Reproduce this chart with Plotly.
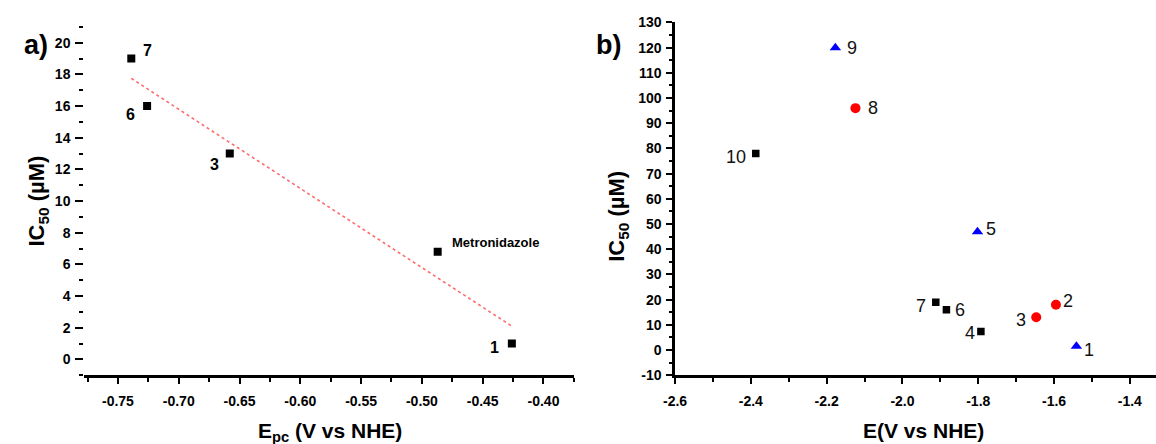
import numpy as np
import plotly.graph_objects as go

# ---------------- data: panel a ----------------
a_labels = ["7", "6", "3", "Metronidazole", "1"]
a_E = [-0.739, -0.726, -0.658, -0.487, -0.426]
a_IC50 = [19.0, 16.0, 13.0, 6.8, 1.0]
a_xticks = [-0.75, -0.70, -0.65, -0.60, -0.55, -0.50, -0.45, -0.40]
a_xticktext = ["-0.75", "-0.70", "-0.65", "-0.60", "-0.55", "-0.50", "-0.45", "-0.40"]
a_yticks = [0, 2, 4, 6, 8, 10, 12, 14, 16, 18, 20]
a_yticktext = ["0", "2", "4", "6", "8", "10", "12", "14", "16", "18", "20"]

# ---------------- data: panel b ----------------
sq_labels = ["10", "7", "6", "4"]
sq_E = [-2.387, -1.912, -1.884, -1.793]
sq_IC50 = [78.0, 19.0, 16.0, 7.4]
ci_labels = ["8", "3", "2"]
ci_E = [-2.124, -1.647, -1.595]
ci_IC50 = [96.0, 13.0, 18.0]
tr_labels = ["9", "5", "1"]
tr_E = [-2.177, -1.802, -1.541]
tr_IC50 = [120.0, 47.0, 1.5]
b_xticks = [-2.6, -2.4, -2.2, -2.0, -1.8, -1.6, -1.4]
b_xticktext = ["-2.6", "-2.4", "-2.2", "-2.0", "-1.8", "-1.6", "-1.4"]
b_yticks = [-10, 0, 10, 20, 30, 40, 50, 60, 70, 80, 90, 100, 110, 120, 130]
b_yticktext = ["-10", "0", "10", "20", "30", "40", "50", "60", "70", "80", "90",
               "100", "110", "120", "130"]

# label offsets (pixels: dx right, dy up)
a_off = {"7": (16, 8), "6": (-17, -8), "3": (-15, -11), "Metronidazole": (12, 9), "1": (-17, -4)}
b_off = {"9": (17, 0), "8": (18, 0), "10": (-20, -4), "5": (14, 3), "7": (-15, -4),
         "6": (14, 0), "4": (-11, -2), "3": (-15, -3), "2": (12, 4), "1": (13, -4)}

# linear fit for panel a
coef = np.polyfit(a_E, a_IC50, 1)
fit_x = np.array([min(a_E), max(a_E)])
fit_y = np.polyval(coef, fit_x)

FONT = "Liberation Sans, Arial, sans-serif"
TFONT = "Liberation Sans Narrow, Liberation Sans, Arial, sans-serif"
W, H = 1156, 444


def bold(lst):
    return [f"<b>{t}</b>" for t in lst]


fig = go.Figure()

fig.add_trace(go.Scatter(x=fit_x, y=fit_y, mode="lines",
                         line=dict(color="#ff6b6b", width=1.6, dash="dot"),
                         xaxis="x", yaxis="y", showlegend=False))
fig.add_trace(go.Scatter(x=a_E, y=a_IC50, mode="markers",
                         marker=dict(symbol="square", size=8, color="black"),
                         xaxis="x", yaxis="y", showlegend=False))

fig.add_trace(go.Scatter(x=sq_E, y=sq_IC50, mode="markers",
                         marker=dict(symbol="square", size=7.5, color="black"),
                         xaxis="x2", yaxis="y2", showlegend=False))
fig.add_trace(go.Scatter(x=ci_E, y=ci_IC50, mode="markers",
                         marker=dict(symbol="circle", size=10, color="#ff0000"),
                         xaxis="x2", yaxis="y2", showlegend=False))
fig.add_trace(go.Scatter(x=tr_E, y=tr_IC50, mode="markers",
                         marker=dict(symbol="triangle-up", size=10, color="#0000ff"),
                         xaxis="x2", yaxis="y2", showlegend=False))

ann = []
for lab, xv, yv in zip(a_labels, a_E, a_IC50):
    dx, dy = a_off[lab]
    big = lab != "Metronidazole"
    ann.append(dict(x=xv, y=yv, xref="x", yref="y", text=f"<b>{lab}</b>", showarrow=False,
                    xshift=dx, yshift=dy, xanchor="center" if big else "left",
                    font=dict(family=FONT, size=16 if big else 13, color="black")))
for labs, xs, ys in [(sq_labels, sq_E, sq_IC50), (ci_labels, ci_E, ci_IC50), (tr_labels, tr_E, tr_IC50)]:
    for lab, xv, yv in zip(labs, xs, ys):
        dx, dy = b_off[lab]
        ann.append(dict(x=xv, y=yv, xref="x2", yref="y2", text=lab, showarrow=False,
                        xshift=dx, yshift=dy, xanchor="center",
                        font=dict(family=FONT, size=18, color="#111111")))

# panel letters and axis titles
P = dict(xref="paper", yref="paper", showarrow=False, xanchor="center")
ann += [
    dict(x=24 / W, y=1 - 38 / H, text="<b>a)</b>", yanchor="middle",
         font=dict(family=FONT, size=27, color="black"), **P),
    dict(x=603 / W, y=1 - 38 / H, text="<b>b)</b>", yanchor="middle",
         font=dict(family=FONT, size=27, color="black"), **P),
    dict(x=26 / W, y=1 - 200 / H, text="<b>IC<sub>50</sub> (µM)</b>", yanchor="middle",
         textangle=-90, font=dict(family=FONT, size=22, color="black"), **P),
    dict(x=613 / W, y=1 - 216 / H, text="<b>IC<sub>50</sub> (µM)</b>", yanchor="middle",
         textangle=-90, font=dict(family=FONT, size=22, color="black"), **P),
    dict(x=321 / W, y=1 - 424 / H, text="<b>E<sub>pc</sub> (V vs NHE)</b>",
         yanchor="top", font=dict(family=FONT, size=21, color="black"), **P),
    dict(x=921 / W, y=1 - 424 / H, text="<b>E(V vs NHE)</b>",
         yanchor="top", font=dict(family=FONT, size=21, color="black"), **P),
]

tickfont = dict(family=TFONT, size=14, color="black")

fig.update_layout(
    width=W, height=H, margin=dict(l=0, r=0, t=0, b=0),
    paper_bgcolor="white", plot_bgcolor="white",
    annotations=ann,
    xaxis=dict(domain=[73 / W, 568 / W], range=[-0.7777, -0.3748], anchor="y",
               tickmode="array", tickvals=a_xticks, ticktext=bold(a_xticktext),
               showline=True, linecolor="black", linewidth=2.5,
               ticks="outside", ticklen=6, tickwidth=2, tickcolor="black",
               minor=dict(tickmode="linear", tick0=-0.775, dtick=0.05, ticks="outside",
                          ticklen=4, tickwidth=2, tickcolor="black", showgrid=False),
               showgrid=False, zeroline=False, tickfont=tickfont, ticklabelstandoff=5),
    yaxis=dict(domain=[1 - 381 / H, 1 - 19.6 / H], range=[-1, 21], anchor="x",
               tickmode="array", tickvals=a_yticks, ticktext=bold(a_yticktext),
               showline=False, ticks="outside", ticklen=8, tickwidth=2, tickcolor="black",
               minor=dict(tickmode="linear", tick0=-1, dtick=2, ticks="outside",
                          ticklen=4, tickwidth=2, tickcolor="black", showgrid=False),
               showgrid=False, zeroline=False, tickfont=tickfont, ticklabelstandoff=2),
    xaxis2=dict(domain=[670 / W, 1.0], range=[-2.6, -1.331], anchor="y2",
                tickmode="array", tickvals=b_xticks, ticktext=bold(b_xticktext),
                showline=True, linecolor="black", linewidth=2.5,
                ticks="outside", ticklen=6, tickwidth=2, tickcolor="black",
                minor=dict(tickmode="linear", tick0=-2.5, dtick=0.2, ticks="outside",
                           ticklen=4, tickwidth=2, tickcolor="black", showgrid=False),
                showgrid=False, zeroline=False, tickfont=tickfont, ticklabelstandoff=5),
    yaxis2=dict(domain=[1 - 381 / H, 1 - 15 / H], range=[-10, 130], anchor="x2",
                tickmode="array", tickvals=b_yticks, ticktext=bold(b_yticktext),
                showline=True, linecolor="black", linewidth=2.5,
                ticks="outside", ticklen=6, tickwidth=2, tickcolor="black",
                minor=dict(tickmode="linear", tick0=-5, dtick=10, ticks="outside",
                           ticklen=3, tickwidth=2, tickcolor="black", showgrid=False),
                showgrid=False, zeroline=False, tickfont=tickfont, ticklabelstandoff=2),
)

fig.write_html("out.html", config={"displayModeBar": False},
               post_script="document.body.style.margin='0';document.body.style.overflow='hidden';")
